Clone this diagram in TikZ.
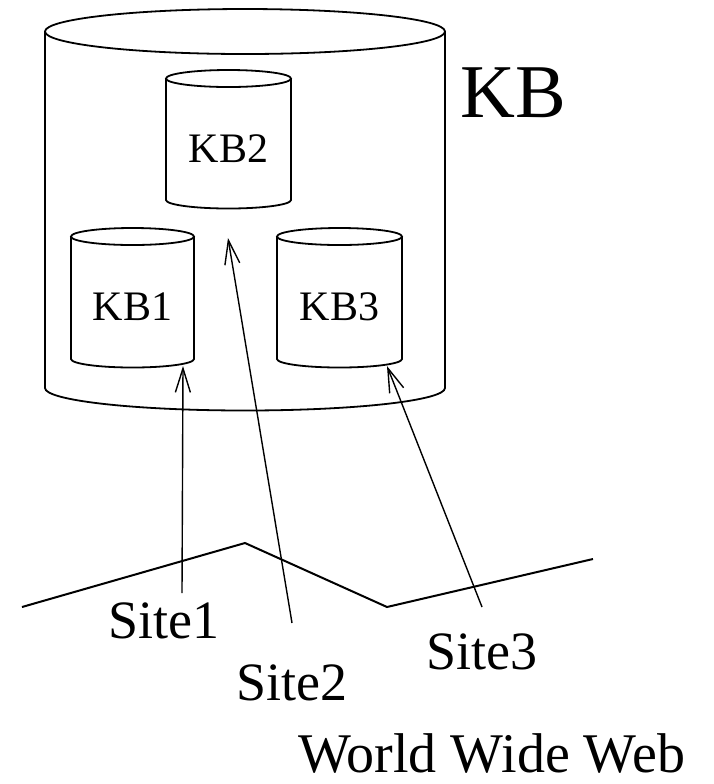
\documentclass[tikz,border=0pt]{standalone}
\usepackage{fontspec}
\setmainfont{Liberation Serif}
\usepackage{tikz}
\usetikzlibrary{arrows.meta}
\usetikzlibrary{calc}
\newcommand{\kbcyl}[7]{%
  \draw[db] (#3,-#4) -- ++(0,-#6) arc[start angle=180,end angle=360,x radius=#5/2,y radius=#7] -- ++(0,#6);
  \draw[db] (#3+#5/2,-#4) ellipse [x radius=#5/2,y radius=#7];
  \node(#1)[item] at (#3+#5/2,-#4-#6/2-9) {#2}}

\begin{document}
\begin{tikzpicture}[
        x=0.5pt,y=0.5pt,
        db/.style={line width=0.9pt,draw=black},
        item/.style={inner sep=0pt,font=\fontsize{21}{23}\selectfont},
        site/.style={inner sep=0pt,anchor=base west,font=\fontsize{27}{29}\selectfont},
        feed/.style={line width=0.7pt,-{Straight Barb[length=12pt,width=7.5pt]}},
        web/.style={line width=1pt,line join=miter}
      ]
      \useasboundingbox (0,0) rectangle (714,-784);
      \kbcyl{kb}{}{45}{31.5}{400}{356.5}{22.5};
      \kbcyl{kb2}{KB2}{166}{78.5}{125}{121.5}{8.5};
      \kbcyl{kb1}{KB1}{71}{236.5}{123}{122.5}{8.5};
      \kbcyl{kb3}{KB3}{277}{236.5}{125}{122.5}{8.5};
      \node(kblabel)[inner sep=0pt,anchor=base west,font=\fontsize{38}{40}\selectfont] at (460,-117) {KB};

      \draw[web] (22,-607) -- (245,-543) -- (387,-607) -- (593,-559);

      \node(site1)[site] at (108,-638) {Site1};
      \node(site2)[site] at (236,-700) {Site2};
      \node(site3)[site] at (426,-669) {Site3};
      \node(www)[site,font=\fontsize{28}{30}\selectfont] at (298,-772) {World Wide Web};

      \coordinate (s1) at (182,-593);
      \coordinate (s2) at (292,-623);
      \coordinate (s3) at (482,-607);
      \coordinate (tip1) at (183,-366);
      \coordinate (tip2) at (228,-238);
      \coordinate (tip3) at (387,-366);
      \draw[feed] (s1) -- (tip1);
      \draw[feed] (s2) -- (tip2);
      \draw[feed] (s3) -- (tip3);
    \end{tikzpicture}
\end{document}
